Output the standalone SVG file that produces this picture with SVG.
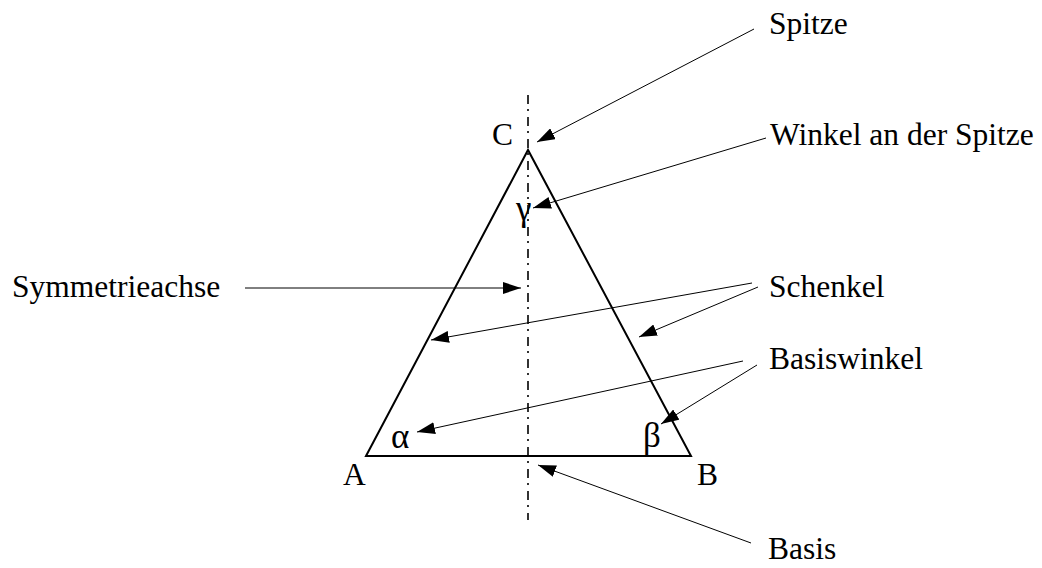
<svg xmlns="http://www.w3.org/2000/svg" width="1042" height="568" viewBox="0 0 1042 568">
<style>
text { font-family: "Liberation Serif", "Times New Roman", serif; font-size: 31.5px; fill: #000; }
text.greek { font-size: 35px; }
.conn { stroke: #000; stroke-width: 1; fill: none; marker-end: url(#ah); }
.tri { stroke: #000; stroke-width: 2; fill: none; stroke-linejoin: miter; }
.axis { stroke: #000; stroke-width: 1.6; stroke-dasharray: 9 5 2 6; fill: none; }
</style>
<defs>
<marker id="ah" viewBox="0 0 18 12" refX="18" refY="6" markerWidth="18" markerHeight="12" markerUnits="userSpaceOnUse" orient="auto">
<path d="M0,0 L18,6 L0,12 z" fill="#000"/>
</marker>
</defs>
<rect width="1042" height="568" fill="#fff"/>
<g id="triangle">
<polygon class="tri" points="366,456 528,150 691,456"/>
<line class="axis" x1="528" y1="95" x2="528" y2="520"/>
<text x="343" y="485">A</text>
<text x="697" y="485">B</text>
<text x="492" y="145">C</text>
<text class="greek" x="391" y="448">α</text>
<text class="greek" x="643" y="447">β</text>
<text class="greek" x="516" y="220">γ</text>
</g>
<g id="label-spitze"><text x="769" y="34">Spitze</text></g>
<g id="label-winkel"><text x="770" y="145">Winkel an der Spitze</text></g>
<g id="label-symmetrieachse"><text x="12" y="297">Symmetrieachse</text></g>
<g id="label-schenkel"><text x="769" y="297">Schenkel</text></g>
<g id="label-basiswinkel"><text x="769" y="369">Basiswinkel</text></g>
<g id="label-basis"><text x="768" y="559">Basis</text></g>
<g id="connectors">
<line class="conn" x1="754" y1="29" x2="537" y2="142"/>
<line class="conn" x1="766" y1="138" x2="533" y2="208"/>
<line class="conn" x1="245" y1="288" x2="521" y2="288"/>
<line class="conn" x1="752" y1="283" x2="431" y2="340"/>
<line class="conn" x1="758" y1="287" x2="639" y2="337"/>
<line class="conn" x1="743" y1="361" x2="417" y2="432"/>
<line class="conn" x1="757" y1="365" x2="661" y2="424"/>
<line class="conn" x1="751" y1="543" x2="538" y2="465"/>
</g>
</svg>
